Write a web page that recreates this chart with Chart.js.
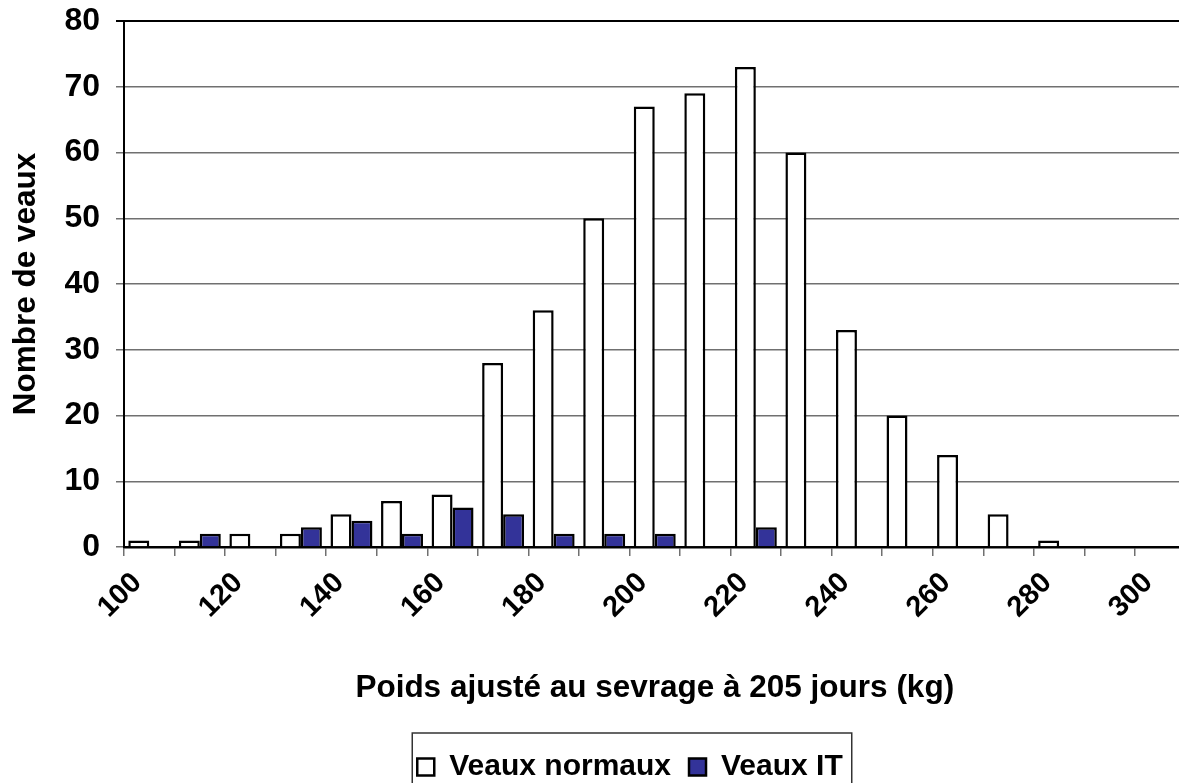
<!DOCTYPE html>
<html><head><meta charset="utf-8">
<script src="https://cdn.jsdelivr.net/npm/chart.js@4"></script>
<style>html,body{margin:0;padding:0;overflow:hidden;background:#fff;width:1179px;height:783px}canvas{display:block}</style>
</head><body>
<canvas id="c" width="1260" height="792"></canvas>
<script>
const categories = ['100','110','120','130','140','150','160','170','180','190','200','210','220','230','240','250','260','270','280','290','300'];
const veauxNormaux = [1,1,2,2,5,7,8,28,36,50,67,69,73,60,33,20,14,5,1,0,0];
const veauxIT = [0,2,0,3,4,2,6,5,2,2,2,0,3,0,0,0,0,0,0,0,0];
const yTicks = [0,10,20,30,40,50,60,70,80];
const seriesNames = ['Veaux normaux','Veaux IT'];
const xTitle = 'Poids ajusté au sevrage à 205 jours (kg)';
const yTitle = 'Nombre de veaux';

const FONT = '"Liberation Sans", Arial, sans-serif';

// widen the legend's box to the whole canvas so it centres like the original
const legendSpan = {
  id: 'legendSpan',
  afterLayout(chart) {
    const lg = chart.legend;
    if (!lg) return;
    lg.left = 0;
    lg.right = chart.width;
    lg.width = chart.width;
  }
};

const legendFrame = {
  id: 'legendFrame',
  afterDraw(chart) {
    const lg = chart.legend;
    if (!lg || !lg.legendHitBoxes || !lg.legendHitBoxes.length) return;
    const hb = lg.legendHitBoxes;
    const first = hb[0], last = hb[hb.length - 1];
    const ctx = chart.ctx;
    ctx.save();
    ctx.strokeStyle = '#333';
    ctx.lineWidth = 1.5;
    const l = first.left - 5, r = last.left + last.width + 9;
    const t = first.top - 19, b = first.top + first.height + 19;
    ctx.strokeRect(l, t, r - l, b - t);
    ctx.restore();
  }
};

new Chart(document.getElementById('c'), {
  type: 'bar',
  data: {
    labels: categories,
    datasets: [
      { label: seriesNames[0], data: veauxNormaux, backgroundColor: '#ffffff', borderColor: '#000000', borderWidth: 2.5 },
      { label: seriesNames[1], data: veauxIT, backgroundColor: '#333399', borderColor: '#000000', borderWidth: 2.5 }
    ]
  },
  options: {
    responsive: false,
    animation: false,
    devicePixelRatio: 1,
    datasets: { bar: { categoryPercentage: 0.83, barPercentage: 1.0 } },
    layout: { padding: { left: 0, top: 21, right: 74.5, bottom: 0 } },
    plugins: {
      tooltip: { enabled: false },
      legend: {
        position: 'bottom',
        labels: {
          color: '#000',
          font: { family: FONT, size: 30, weight: 'bold' },
          boxWidth: 17, boxHeight: 17, padding: 18
        }
      }
    },
    scales: {
      x: {
        offset: true,
        afterFit: s => { s.height = 187; s.paddingLeft = 0; s.paddingRight = 0; },
        grid: { offset: true, drawOnChartArea: false, drawTicks: true, tickLength: 9, color: '#707070', lineWidth: 1.5 },
        border: { display: true, color: '#000', width: 2.5 },
        ticks: {
          autoSkip: false, maxRotation: 45, minRotation: 45, padding: 10, labelOffset: -12,
          color: '#000', font: { family: FONT, size: 29, weight: 'bold' },
          callback: function(v, i) { return i % 2 === 0 ? categories[i] : ''; }
        },
        title: { display: true, text: xTitle, color: '#000', font: { family: FONT, size: 31.5, weight: 'bold' }, padding: { top: 0, bottom: 27 } }
      },
      y: {
        min: 0, max: 80,
        afterFit: s => { s.width = 124; s.paddingTop = 0; s.paddingBottom = 0; },
        afterBuildTicks: s => { s.ticks = yTicks.map(v => ({ value: v })); },
        grid: {
          color: c => (c.tick && c.tick.value === 80) ? '#000' : '#707070',
          lineWidth: c => (c.tick && c.tick.value === 80) ? 2 : 1.5,
          tickLength: 8
        },
        border: { display: true, color: '#000', width: 2 },
        ticks: { padding: 16, color: '#000', font: { family: FONT, size: 32, weight: 'bold' } },
        title: { display: true, text: yTitle, color: '#000', font: { family: FONT, size: 31.5, weight: 'bold' }, padding: { top: 7, bottom: 0 } }
      }
    }
  },
  plugins: [legendSpan, legendFrame]
});
</script>
</body></html>
